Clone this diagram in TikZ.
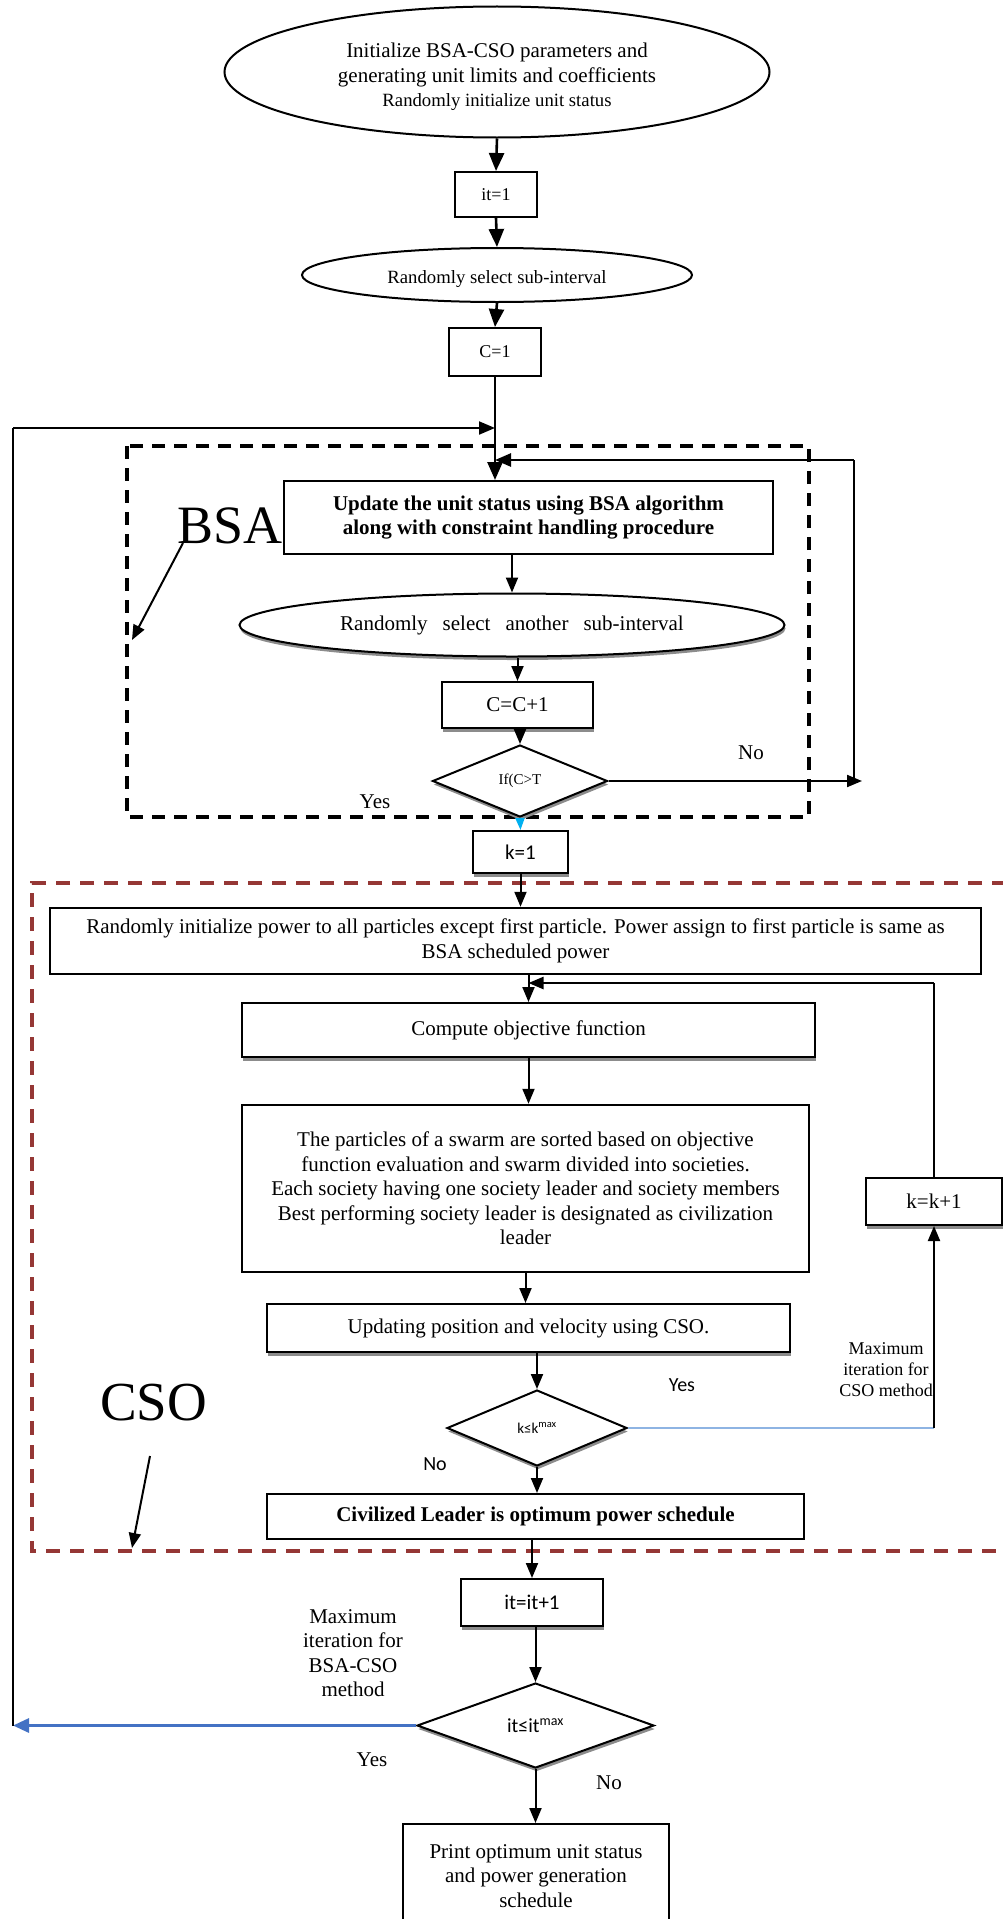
\documentclass[tikz,border=0pt]{standalone}
\usepackage{fontspec}
\setmainfont{Liberation Serif}
\newfontfamily\carl{Carlito}
\usetikzlibrary{shapes.geometric,arrows.meta,shadows}

\definecolor{bsared}{HTML}{953735}
\definecolor{loopblue}{HTML}{4472C4}
\definecolor{paleblue}{HTML}{8EB4E3}
\definecolor{tipcyan}{HTML}{00B0F0}

\tikzset{
  txt/.style={font=\fontsize{21}{24.5}\selectfont, align=center, inner sep=0pt},
  sanstxt/.style={font=\carl\fontsize{21}{24.5}\selectfont, align=center, inner sep=0pt},
  box/.style={txt, draw, line width=2pt, fill=white, rectangle},
  oval/.style={txt, draw, line width=2pt, fill=white, ellipse},
  decision/.style={txt, draw, line width=2pt, fill=white, diamond},
  shade/.style={drop shadow={shadow xshift=1pt, shadow yshift=-3.5pt, fill=black!45, opacity=1}},
  bigarr/.style={line width=2.6pt, -{Triangle[length=18pt,width=15pt]}},
  arr/.style={line width=2pt, -{Triangle[length=15pt,width=12pt]}},
  thinline/.style={line width=1.4pt},
  bsadash/.style={line width=3.5pt, dash pattern=on 13pt off 9pt},
  csodash/.style={line width=3.5pt, bsared, dash pattern=on 14pt off 10pt},
}

\begin{document}
\begin{tikzpicture}[x=1pt,y=-1pt]
  \useasboundingbox (0,0) rectangle (1003,1919);
  \fill[white] (0,0) rectangle (1003,1919);
  \clip (0,0) rectangle (1003,1919);

  % group frames
  \draw[bsadash] (127,446) rectangle (809,817);
  \draw[csodash] (1030,883) -- (32,883) -- (32,1551) -- (1030,1551);

  % BSA stage
  \node[oval, minimum width=545pt, minimum height=131pt] (init) at (497,72)
    {\rule{0pt}{25pt}Initialize BSA-CSO parameters and\\generating unit limits and coefficients\\{\fontsize{18.7}{22}\selectfont Randomly initialize unit status}};
  \node[box, minimum width=82pt, minimum height=45pt, font=\fontsize{18}{21}\selectfont] (it1) at (496,194.5) {it=1};
  \node[oval, minimum width=390pt, minimum height=54pt, font=\fontsize{18.7}{22}\selectfont] (sub) at (497,275) {\rule{0pt}{21pt}Randomly select sub-interval};
  \node[box, minimum width=92pt, minimum height=48pt, font=\fontsize{18}{21}\selectfont] (c1) at (495,352) {C=1};
  \node[box, minimum width=489pt, minimum height=73pt, font=\fontsize{21}{24.5}\selectfont\bfseries] (upd) at (528.5,517.5)
    {Update the unit status using BSA algorithm\\along with constraint handling procedure};
  \node[oval, shade, minimum width=545pt, minimum height=63pt] (another) at (512,625)
    {Randomly\hspace{15pt}select\hspace{15pt}another\hspace{15pt}sub-interval};
  \node[box, shade, minimum width=151pt, minimum height=46pt] (cc) at (517.5,705) {C=C+1};
  \node[decision, shade, minimum width=175pt, minimum height=72pt, font=\fontsize{15}{18}\selectfont] (ifc) at (520,781) {If(C>T};

  % CSO stage
  \node[box, shade, sanstxt, minimum width=95pt, minimum height=42pt] (k1) at (520.5,852) {k=1};
  \node[box, line width=2.5pt, minimum width=931pt, minimum height=66pt] (pow) at (515.5,941)
    {Randomly initialize power to all particles except first particle. Power assign to first particle is same as\\BSA scheduled power};
  \node[box, shade, minimum width=573pt, minimum height=54pt] (obj) at (528.5,1030) {Compute objective function};
  \node[box, line width=2.5pt, minimum width=567pt, minimum height=167pt] (sort) at (525.5,1188.5)
    {The particles of a swarm are sorted based on objective\\function evaluation and swarm divided into societies.\\Each society having one society leader and society members\\Best performing society leader is designated as civilization\\leader};
  \node[box, shade, minimum width=136pt, minimum height=47pt] (kk) at (934,1201.5) {k=k+1};
  \node[box, shade, minimum width=523pt, minimum height=48pt] (vel) at (528.5,1328) {Updating position and velocity using CSO.};
  \node[decision, shade, minimum width=180pt, minimum height=76pt, font=\carl\fontsize{15}{18}\selectfont] (kmax) at (537,1428) {k≤k\textsuperscript{max}};
  \node[box, minimum width=537pt, minimum height=45pt, font=\fontsize{21}{24.5}\selectfont\bfseries] (civ) at (535.5,1516.5)
    {Civilized Leader is optimum power schedule};

  % outer iteration
  \node[box, shade, sanstxt, minimum width=142pt, minimum height=47pt] (itinc) at (532,1602.5) {it=it+1};
  \node[decision, shade, minimum width=237pt, minimum height=85pt, font=\carl\fontsize{20}{24}\selectfont] (itmax) at (535.5,1725.5) {it≤it\textsuperscript{max}};
  \node[box, minimum width=266pt, minimum height=104pt] (prt) at (536,1876)
    {Print optimum unit status\\and power generation\\schedule};

  % captions
  \node[txt, anchor=base west, font=\fontsize{54}{60}\selectfont] (bsalbl) at (177,543) {BSA};
  \node[txt, anchor=base west, font=\fontsize{55}{60}\selectfont] (csolbl) at (100,1420) {CSO};
  \node[txt] (no1) at (751,753) {No};
  \node[txt] (yes1) at (375,802) {Yes};
  \node[sanstxt, font=\carl\fontsize{20}{24}\selectfont] (yes2) at (682,1385) {Yes};
  \node[sanstxt, font=\carl\fontsize{20}{24}\selectfont] (no2) at (435,1464) {No};
  \node[txt, font=\fontsize{18}{21}\selectfont] (maxcso) at (886,1370) {Maximum\\iteration for\\CSO method};
  \node[txt] (maxbsa) at (353,1653) {Maximum\\iteration for\\BSA-CSO\\method};
  \node[txt] (yes3) at (372,1760) {Yes};
  \node[txt] (no3) at (609,1783) {No};

  % loop corners and pointer ends
  \coordinate (lpb) at (13,1725.5);
  \coordinate (lpt) at (13,428);
  \coordinate (rlb) at (854,781);
  \coordinate (rlt) at (854,460);
  \coordinate (rtip) at (862,781);
  \coordinate (fb) at (934,983);
  \coordinate (bsafrom) at (183,543);
  \coordinate (bsato) at (132,640);
  \coordinate (csofrom) at (150,1456);
  \coordinate (csoto) at (132,1548);

  % main flow
  \draw[bigarr] (init.south) -- (it1.north);
  \draw[bigarr] (it1.south) -- (sub.north);
  \draw[bigarr] (sub.south) -- (c1.north);
  \draw[bigarr] (c1.south) -- (c1.south |- upd.north);
  \draw[arr] (another.north |- upd.south) -- (another.north);
  \draw[arr] (another.south -| cc.north) -- (cc.north);
  \draw[arr] (cc.south -| ifc.north) -- (ifc.north);
  \draw[tipcyan, line width=2pt, -{Triangle[length=12pt,width=9pt]}] (ifc.south) -- (k1.north);
  \draw[arr] (k1.south) -- (k1.south |- pow.north);
  \draw[arr] (pow.south -| obj.north) -- (obj.north);
  \draw[arr] (obj.south) -- (obj.south |- sort.north);
  \draw[arr] (sort.south) -- (sort.south |- vel.north);
  \draw[arr] (vel.south -| kmax.north) -- (kmax.north);
  \draw[arr] (kmax.south) -- (kmax.south |- civ.north);
  \draw[arr] (itinc.north |- civ.south) -- (itinc.north);
  \draw[arr] (itinc.south -| itmax.north) -- (itmax.north);
  \draw[arr] (itmax.south) -- (itmax.south |- prt.north);

  % BSA inner loop
  \draw[arr] (ifc.east) -- (rtip);
  \draw[thinline] (rlb) -- (rlt);
  \draw[line width=2.6pt, -{Triangle[length=16pt,width=13pt]}] (rlt) -- (rlt -| c1.south);

  % CSO inner loop
  \draw[paleblue, line width=2pt] (kmax.east) -- (kmax.east -| kk.south);
  \draw[arr] (kmax.east -| kk.south) -- (kk.south);
  \draw[thinline] (kk.north) -- (kk.north |- fb);
  \draw[line width=2.4pt, -{Triangle[length=15pt,width=12pt]}] (kk.north |- fb) -- (obj.north |- fb);

  % outer loop
  \draw[loopblue, line width=3pt, -{Triangle[length=16pt,width=14pt]}] (itmax.west) -- (itmax.west -| lpb);
  \draw[thinline] (lpb) -- (lpt);
  \draw[line width=2pt, -{Triangle[length=16pt,width=13pt]}] (lpt) -- (lpt -| c1.south);

  % caption pointers
  \draw[arr] (bsafrom) -- (bsato);
  \draw[arr] (csofrom) -- (csoto);
\end{tikzpicture}
\end{document}
